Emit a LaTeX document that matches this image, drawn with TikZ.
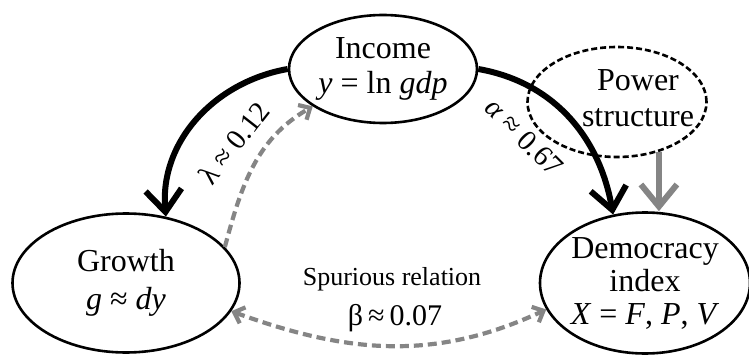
\documentclass[tikz,border=0pt]{standalone}
\usepackage{fontspec}
\setmainfont{Liberation Serif}
\usepackage{tikz}
\usetikzlibrary{positioning,arrows.meta,shapes.geometric}
\definecolor{linkgray}{HTML}{858585}

\begin{document}
\begin{tikzpicture}[
  x=1pt, y=1pt,
  font=\fontsize{32}{35}\selectfont,
  var/.style={draw, ellipse, line width=2.6pt, align=center, inner sep=0pt},
  hidden/.style={var, dash pattern=on 6pt off 3pt},
  main/.style={-{Straight Barb[length=22pt,width=36pt]}, line width=6pt},
  side/.style={main, linkgray},
  spur/.style={-{Straight Barb[length=9pt,width=17pt]}, linkgray, line width=4.2pt, dash pattern=on 9pt off 5pt},
  lab/.style={font=\fontsize{29}{32}\selectfont}
]
\useasboundingbox (0,0) rectangle (749,354);
\node[var, minimum width=188, minimum height=108] (inc) at (383,285) {Income\\\textit{y} = ln \textit{gdp}};
\node[hidden, minimum width=179, minimum height=110] (pow) at (617,252) {};
\node[align=center, font=\fontsize{32}{36}\selectfont] (powtxt) at (638,256) {Power\\structure};
\node[var, minimum width=227, minimum height=139, font=\fontsize{32}{38}\selectfont] (gro) at (126,71) {Growth\\\textit{g} ≈ \textit{dy}};
\node[var, minimum width=210, minimum height=141, font=\fontsize{32}{33}\selectfont] (dem) at (645,71) {Democracy\\index\\\textit{X} = \textit{F}, \textit{P}, \textit{V}};
\node[lab, rotate=52] (lam) at (234,211) {λ ≈ 0.12};
\node[lab, rotate=-45] (alp) at (524,217) {\textit{α} ≈ 0.67};
\node[font=\fontsize{26}{30}\selectfont] (spu) at (392,75) {Spurious relation};
\node[font=\fontsize{30}{34}\selectfont] (bet) at (395,36) {β\,≈\,0.07};
\draw[main] (inc.west) to[out=190, in=95] (gro.59);
\draw[main] (inc.east) to[out=-10, in=100] (dem.115);
\draw[side] (pow.-50) -- (pow.-50 |- dem.north);
\draw[spur] (gro.20) to[out=75, in=210] (inc.208);
\draw[spur, {Straight Barb[length=9pt,width=17pt]}-{Straight Barb[length=9pt,width=17pt]}] (gro.-15) to[out=-20, in=-155] (dem.195);
\end{tikzpicture}
\end{document}
